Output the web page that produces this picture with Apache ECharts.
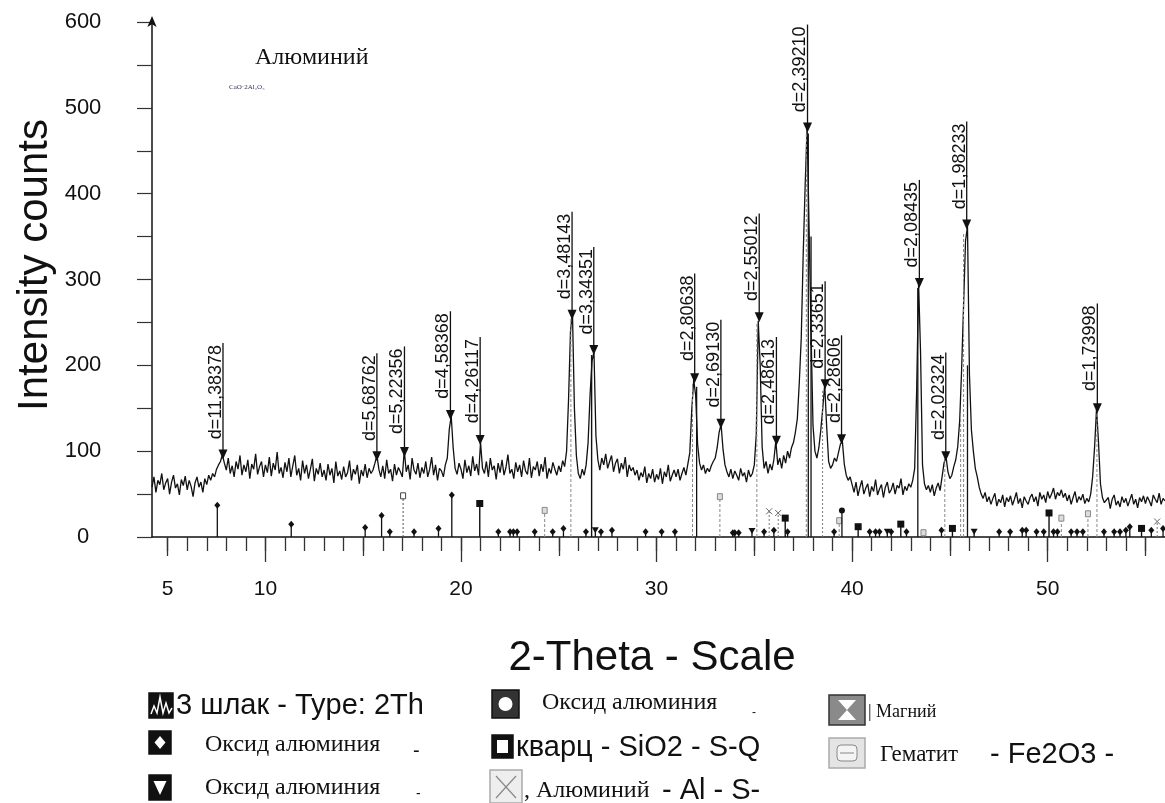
<!DOCTYPE html>
<html>
<head>
<meta charset="utf-8">
<title>Алюминий — рентгенограмма</title>
<script src="https://cdn.jsdelivr.net/npm/echarts@6.0.0/dist/echarts.min.js"></script>
<style>
  html, body { margin: 0; padding: 0; background: #fff; }
  #chart { width: 1165px; height: 803px; }
</style>
</head>
<body>
<div id="chart"></div>
<script>
const SANS = '"Liberation Sans", Arial, sans-serif';
const SERIF = '"Liberation Serif", "Times New Roman", serif';
const INK = '#111';

// measured pattern: 2θ from 4.2° to 56.0°, one reading every 0.1°
const scanStart = 4.2;
const scanStep = 0.1;
const scanCounts = [
  58, 70, 52, 66, 61, 74, 55, 63,
  68, 50, 64, 72, 57, 62, 49, 67, 60, 71,
  55, 66, 59, 47, 63, 70, 58, 64, 52, 68,
  61, 72, 66, 74, 70, 79, 84, 88, 96, 86,
  78, 92, 74, 83, 70, 88, 79, 95, 72, 84,
  76, 90, 68, 85, 79, 97, 73, 82, 88, 70,
  84, 75, 93, 71, 86, 78, 99, 74, 81, 69,
  87, 76, 92, 70, 83, 95, 72, 80, 66, 89,
  74, 84, 68, 79, 91, 65, 80, 73, 86, 70,
  78, 66, 85, 72, 80, 63, 88, 71, 77, 67,
  82, 70, 75, 89, 66, 79, 73, 84, 62, 78,
  71, 85, 69, 80, 74, 78, 86, 95, 79, 70,
  83, 68, 90, 74, 79, 65, 85, 72, 81, 76,
  70, 101, 76, 84, 67, 92, 78, 73, 86, 69,
  81, 74, 88, 70, 79, 93, 72, 84, 66, 80,
  77, 70, 84, 92, 125, 141, 104, 80, 73, 86,
  79, 68, 90, 75, 83, 71, 94, 77, 85, 72,
  110, 80, 74, 88, 70, 92, 78, 83, 67, 86,
  75, 90, 72, 81, 96, 74, 79, 68, 87, 76,
  84, 70, 89, 77, 73, 92, 69, 82, 78, 88,
  71, 85, 76, 93, 68, 80, 74, 87, 79, 72,
  83, 76, 89, 82, 100, 160, 240, 262, 150, 95,
  74, 68, 79, 72, 84, 110, 165, 205, 216, 118,
  90, 78, 92, 84, 97, 80, 88, 95, 76, 86,
  91, 74, 86, 79, 93, 70, 84, 77, 81, 72,
  78, 66, 75, 70, 82, 63, 74, 68, 79, 64,
  73, 67, 80, 62, 76, 70, 84, 65, 72, 78,
  70, 79, 66, 74, 81, 72, 85, 98, 148, 183,
  165, 108, 86, 78, 84, 74, 80, 76, 83, 88,
  92, 104, 122, 131, 102, 84, 76, 70, 79, 68,
  77, 72, 66, 80, 71, 75, 64, 78, 70, 74,
  84, 120, 252, 200, 105, 80, 88, 74, 85, 78,
  90, 112, 84, 92, 80, 95, 86, 100, 92, 104,
  110, 122, 138, 180, 232, 330, 410, 478, 360, 240,
  130, 100, 92, 104, 125, 150, 178, 128, 88, 80,
  84, 92, 88, 98, 108, 112, 85, 72, 66, 70,
  61, 52, 64, 48, 58, 66, 50, 57, 62, 47,
  59, 53, 67, 49, 56, 61, 46, 58, 64, 51,
  55, 63, 50, 60, 57, 68, 49, 59, 54, 62,
  58, 66, 80, 170, 296, 215, 84, 62, 55, 60,
  52, 61, 48, 57, 63, 54, 70, 86, 94, 76,
  68, 72, 82, 90, 105, 135, 195, 270, 345, 362,
  190, 125, 100, 80, 70, 58, 50, 45, 52, 41,
  47, 38, 45, 51, 36, 44, 40, 49, 35, 46,
  41, 48, 37, 44, 52, 39, 45, 34, 47, 42,
  38, 46, 50, 41, 47, 36, 52, 44, 49, 40,
  53, 45, 50, 57, 44, 52, 48, 55, 46, 51,
  42, 49, 38, 46, 53, 40, 47, 43, 50, 39,
  45, 41, 50, 70, 105, 150, 110, 62, 46, 40,
  38, 46, 33, 44, 49, 37, 42, 35, 47, 40,
  45, 36, 43, 50, 38, 44, 34, 46, 41, 48,
  39, 47, 42, 36, 49, 44, 40, 51, 38, 45,
  42
];

// labelled peaks: position, arrow height, top of the label line, d-spacing text
const peakTheta = [7.83, 15.70, 17.11, 19.46, 20.98, 25.68, 26.79, 31.95, 33.29,
  35.25, 36.13, 37.72, 38.62, 39.46, 43.44, 44.79, 45.86, 52.54];
const peakMark = [96, 94, 99, 142, 113, 259, 218, 185, 132,
  256, 112, 477, 178, 114, 296, 94, 364, 150];
const peakTop = [226, 214, 222, 263, 233, 379, 338, 307, 253,
  377, 233, 597, 298, 235, 416, 215, 484, 272];
const peakLabels = ['d=11,38378', 'd=5,68762', 'd=5,22356', 'd=4,58368', 'd=4,26117',
  'd=3,48143', 'd=3,34351', 'd=2,80638', 'd=2,69130', 'd=2,55012', 'd=2,48613',
  'd=2,39210', 'd=2,33651', 'd=2,28606', 'd=2,08435', 'd=2,02324', 'd=1,98233', 'd=1,73998'];

// reference card sticks under the pattern (phase key -> legend entry)
const stickTheta = [7.54, 11.32, 15.10, 15.94, 16.36, 17.04, 17.60, 18.85, 19.53, 20.96,
  21.91, 22.51, 22.68, 22.87, 23.77, 24.28, 24.69, 25.24, 25.62, 26.39,
  26.68, 26.87, 27.16, 27.72, 29.44, 30.26, 30.94, 31.84, 32.05, 33.24,
  33.90, 34.00, 34.20, 34.88, 35.13, 35.50, 35.76, 36.00, 36.22, 36.58,
  36.70, 37.66, 37.76, 37.90, 38.49, 39.08, 39.34, 39.48, 40.31, 40.90,
  41.20, 41.40, 41.80, 42.00, 42.49, 42.78, 43.36, 43.65, 44.57, 44.74,
  45.13, 45.55, 45.70, 45.90, 46.24, 47.52, 48.08, 48.70, 48.90, 49.43,
  49.80, 50.07, 50.30, 50.50, 50.70, 51.20, 51.50, 51.80, 52.06, 52.52,
  52.88, 53.40, 53.70, 54.00, 54.20, 54.80, 55.30, 55.60, 55.90];
const stickHeight = [37, 15, 11, 25, 6, 48, 6, 10, 49, 39,
  6, 6, 6, 6, 6, 31, 6, 10, 255, 6,
  212, 8, 6, 8, 6, 6, 6, 180, 175, 47,
  5, 5, 5, 7, 250, 6, 30, 8, 28, 22,
  6, 470, 470, 350, 170, 6, 19, 31, 12, 6,
  6, 6, 6, 6, 15, 6, 290, 5, 8, 92,
  10, 140, 355, 200, 6, 6, 6, 8, 8, 6,
  6, 28, 6, 6, 22, 6, 6, 6, 27, 145,
  6, 6, 6, 8, 12, 10, 8, 18, 10];
const stickPhase = ['d', 'd', 'd', 'd', 'd', 'm', 'd', 'd', 'd', 'q',
  'd', 'd', 'd', 'd', 'd', 'h', 'd', 'd', 'h', 'd',
  'q', 't', 'd', 'd', 'd', 'd', 'd', 'h', 'd', 'h',
  'd', 'd', 'd', 't', 'h', 'd', 'a', 'd', 'a', 'q',
  'd', 'h', 'd', 'd', 'a', 'd', 'h', 'c', 'q', 'd',
  'd', 'd', 't', 'd', 'q', 'd', 'd', 'h', 'd', 'h',
  'q', 'h', 'h', 'd', 't', 'd', 'd', 'd', 'd', 'd',
  'd', 'q', 'd', 'd', 'h', 'd', 'd', 'd', 'h', 'h',
  'd', 'd', 'd', 'd', 'd', 'q', 'd', 'a', 'd'];

const xTickValues = Array.from({ length: 51 }, (_, i) => 5 + i);
const xMidTicks = [5, 15, 25, 35, 45, 55];
const xMajorTicks = [10, 20, 30, 40, 50];
const xLabelValues = [5, 10, 20, 30, 40, 50];
const yLabelValues = [0, 100, 200, 300, 400, 500, 600];

const PHASE = {
  d: { stroke: INK, dash: null, width: 1.3, mark: 'diamond' },
  c: { stroke: INK, dash: null, width: 1.3, mark: 'circle' },
  t: { stroke: INK, dash: null, width: 1.3, mark: 'triangle' },
  q: { stroke: INK, dash: null, width: 1.4, mark: 'square' },
  a: { stroke: '#777', dash: [2, 2], width: 1, mark: 'cross' },
  m: { stroke: '#555', dash: [2, 2], width: 1, mark: 'bar' },
  h: { stroke: '#888', dash: [3, 2], width: 1, mark: 'hatch' },
};

function stickMark(kind, x, y) {
  switch (kind) {
    case 'diamond': return { type: 'polygon', shape: { points: [[x, y - 3.5], [x + 3, y], [x, y + 3.5], [x - 3, y]] }, style: { fill: INK } };
    case 'circle': return { type: 'circle', shape: { cx: x, cy: y, r: 3 }, style: { fill: INK } };
    case 'triangle': return { type: 'polygon', shape: { points: [[x - 3.5, y - 3], [x + 3.5, y - 3], [x, y + 3]] }, style: { fill: INK } };
    case 'square': return { type: 'rect', shape: { x: x - 3.5, y: y - 3.5, width: 7, height: 7 }, style: { fill: INK } };
    case 'cross': return { type: 'group', children: [
      { type: 'line', shape: { x1: x - 3, y1: y - 3, x2: x + 3, y2: y + 3 }, style: { stroke: '#666', lineWidth: 1 } },
      { type: 'line', shape: { x1: x + 3, y1: y - 3, x2: x - 3, y2: y + 3 }, style: { stroke: '#666', lineWidth: 1 } }] };
    case 'bar': return { type: 'rect', shape: { x: x - 2.5, y: y - 3, width: 5, height: 6 }, style: { fill: '#fff', stroke: '#444', lineWidth: 1 } };
    default: return { type: 'rect', shape: { x: x - 2.5, y: y - 3, width: 5, height: 6 }, style: { fill: '#ddd', stroke: '#888', lineWidth: 1 } };
  }
}

function renderStick(params, api) {
  const i = params.dataIndex;
  const st = PHASE[stickPhase[i]];
  const p0 = api.coord([api.value(0), 0]);
  const p1 = api.coord([api.value(0), api.value(1)]);
  const children = [{
    type: 'line',
    shape: { x1: p0[0], y1: p0[1], x2: p1[0], y2: p1[1] },
    style: { stroke: st.stroke, lineWidth: st.width, lineDash: st.dash }
  }];
  if (api.value(1) < 60) children.push(stickMark(st.mark, p1[0], p1[1]));
  return { type: 'group', children };
}

function renderPeak(params, api) {
  const pm = api.coord([api.value(0), api.value(1)]);
  const pt = api.coord([api.value(0), api.value(2)]);
  return {
    type: 'group',
    children: [
      { type: 'line', shape: { x1: pm[0], y1: pm[1], x2: pt[0], y2: pt[1] }, style: { stroke: INK, lineWidth: 1.3 } },
      { type: 'polygon', shape: { points: [[pm[0] - 4.5, pm[1] - 5], [pm[0] + 4.5, pm[1] - 5], [pm[0], pm[1] + 5]] }, style: { fill: INK } },
      {
        type: 'text', x: pt[0] + 2, y: pt[1] + 2, rotation: Math.PI / 2,
        style: { text: peakLabels[params.dataIndex], align: 'right', verticalAlign: 'bottom', font: '18px ' + SANS, fill: INK }
      }
    ]
  };
}

const scanData = scanCounts.map((c, i) => [+(scanStart + i * scanStep).toFixed(1), c]);
const peakData = peakTheta.map((t, i) => [t, peakMark[i], peakTop[i]]);
const stickData = stickTheta.map((t, i) => [t, stickHeight[i]]);

function tickAxis(values, len, line) {
  return {
    type: 'value', min: 4.2, max: 56, position: 'bottom', gridIndex: 0,
    axisLine: { show: line, lineStyle: { color: INK, width: 1.5 } },
    axisTick: { show: true, customValues: values, length: len, lineStyle: { color: '#333', width: 1.3 } },
    axisLabel: { show: false },
    splitLine: { show: false }
  };
}

const mainX = tickAxis(xTickValues, 14, true);
mainX.axisLabel = {
  show: true, customValues: xLabelValues, margin: 42,
  fontSize: 21, fontFamily: SANS, color: INK
};

// legend icons drawn as plain shapes
function iconBox(x, y, w, h, fill, stroke) {
  return { type: 'rect', shape: { x, y, width: w, height: h }, style: { fill, stroke: stroke || INK, lineWidth: 1.5 } };
}
function txt(text, x, y, font, extra) {
  return { type: 'text', x, y, style: Object.assign({ text, font, fill: INK, align: 'left', verticalAlign: 'middle' }, extra || {}) };
}

const graphics = [
  txt('Алюминий', 255, 58, '24px ' + SERIF),
  txt('CaO·2Al₂O₃', 229, 87, '7px ' + SERIF, { fill: '#335' }),
  { type: 'text', x: 35, y: 265, rotation: Math.PI / 2,
    style: { text: 'Intensity counts', font: '42px ' + SANS, fill: INK, align: 'center', verticalAlign: 'middle' } },
  txt('2-Theta - Scale', 652, 658, '42px ' + SANS, { align: 'center' }),

  // column 1
  iconBox(149, 693, 24, 25, INK),
  { type: 'polyline', shape: { points: [[151, 714], [154, 706], [157, 713], [160, 697], [163, 713], [166, 703], [169, 713], [172, 708]] },
    style: { stroke: '#fff', lineWidth: 1.5, fill: null } },
  txt('3 шлак - Type: 2Th', 176, 706, '29px ' + SANS),
  iconBox(149, 731, 22, 23, INK),
  { type: 'polygon', shape: { points: [[160, 736], [165.5, 742.5], [160, 749], [154.5, 742.5]] }, style: { fill: '#fff' } },
  txt('Оксид алюминия', 205, 745, '24px ' + SERIF),
  txt('-', 413, 751, '20px ' + SANS),
  iconBox(149, 775, 22, 25, INK),
  { type: 'polygon', shape: { points: [[153.5, 781], [166.5, 781], [160, 795]] }, style: { fill: '#fff' } },
  txt('Оксид алюминия', 205, 788, '24px ' + SERIF),
  txt('-', 416, 794, '14px ' + SANS),

  // column 2
  iconBox(492, 690, 27, 28, '#333'),
  { type: 'circle', shape: { cx: 505.5, cy: 704, r: 7 }, style: { fill: '#fff' } },
  txt('Оксид алюминия', 542, 703, '24px ' + SERIF),
  txt('-', 752, 713, '12px ' + SANS),
  iconBox(492, 735, 21, 23, INK),
  { type: 'rect', shape: { x: 497, y: 740, width: 11, height: 13 }, style: { fill: '#fff' } },
  txt('кварц - SiO2 - S-Q', 516, 748, '29px ' + SANS),
  iconBox(490, 770, 32, 33, '#eee', '#aaa'),
  { type: 'line', shape: { x1: 496, y1: 776, x2: 516, y2: 798 }, style: { stroke: '#888', lineWidth: 1.2 } },
  { type: 'line', shape: { x1: 516, y1: 776, x2: 496, y2: 798 }, style: { stroke: '#888', lineWidth: 1.2 } },
  txt(', Алюминий', 524, 791, '24px ' + SERIF),
  txt('- Al - S-', 662, 791, '29px ' + SANS),

  // column 3
  iconBox(829, 695, 36, 30, '#8a8a8a', '#333'),
  { type: 'polygon', shape: { points: [[838, 700], [856, 700], [847, 710], [856, 720], [838, 720], [847, 710]] }, style: { fill: '#fff' } },
  txt('| Магний', 868, 712, '18px ' + SERIF),
  iconBox(829, 738, 36, 30, '#e4e4e4', '#aaa'),
  { type: 'rect', shape: { x: 837, y: 745, width: 20, height: 16, r: 4 }, style: { fill: '#f4f4f4', stroke: '#888', lineWidth: 1 } },
  { type: 'line', shape: { x1: 840, y1: 753, x2: 854, y2: 753 }, style: { stroke: '#888', lineWidth: 1 } },
  txt('Гематит', 880, 755, '23px ' + SERIF),
  txt('- Fe2O3 -', 990, 755, '29px ' + SANS)
];

const chart = echarts.init(document.getElementById('chart'), null, { renderer: 'canvas' });
chart.setOption({
  animation: false,
  backgroundColor: '#fff',
  grid: { left: 152, right: 0, top: 22, bottom: 266, containLabel: false },
  xAxis: [mainX, tickAxis(xMidTicks, 19, false), tickAxis(xMajorTicks, 25, false)],
  yAxis: {
    type: 'value', min: 0, max: 600, interval: 50,
    axisLine: { show: true, symbol: ['none', 'arrow'], symbolSize: [7, 11], symbolOffset: [0, 6], lineStyle: { color: INK, width: 1.5 } },
    axisTick: { show: true, length: 15, lineStyle: { color: '#333', width: 1.2 } },
    axisLabel: { customValues: yLabelValues, margin: 69, align: 'center', fontSize: 22, fontFamily: SANS, color: INK },
    splitLine: { show: false }
  },
  graphic: graphics,
  series: [
    {
      name: '3 шлак', type: 'line', data: scanData, showSymbol: false, silent: true,
      lineStyle: { color: INK, width: 1.3 }, z: 2
    },
    { name: 'sticks', type: 'custom', data: stickData, renderItem: renderStick, silent: true, z: 3 },
    { name: 'peaks', type: 'custom', data: peakData, renderItem: renderPeak, silent: true, z: 4 }
  ]
});
</script>
</body>
</html>
